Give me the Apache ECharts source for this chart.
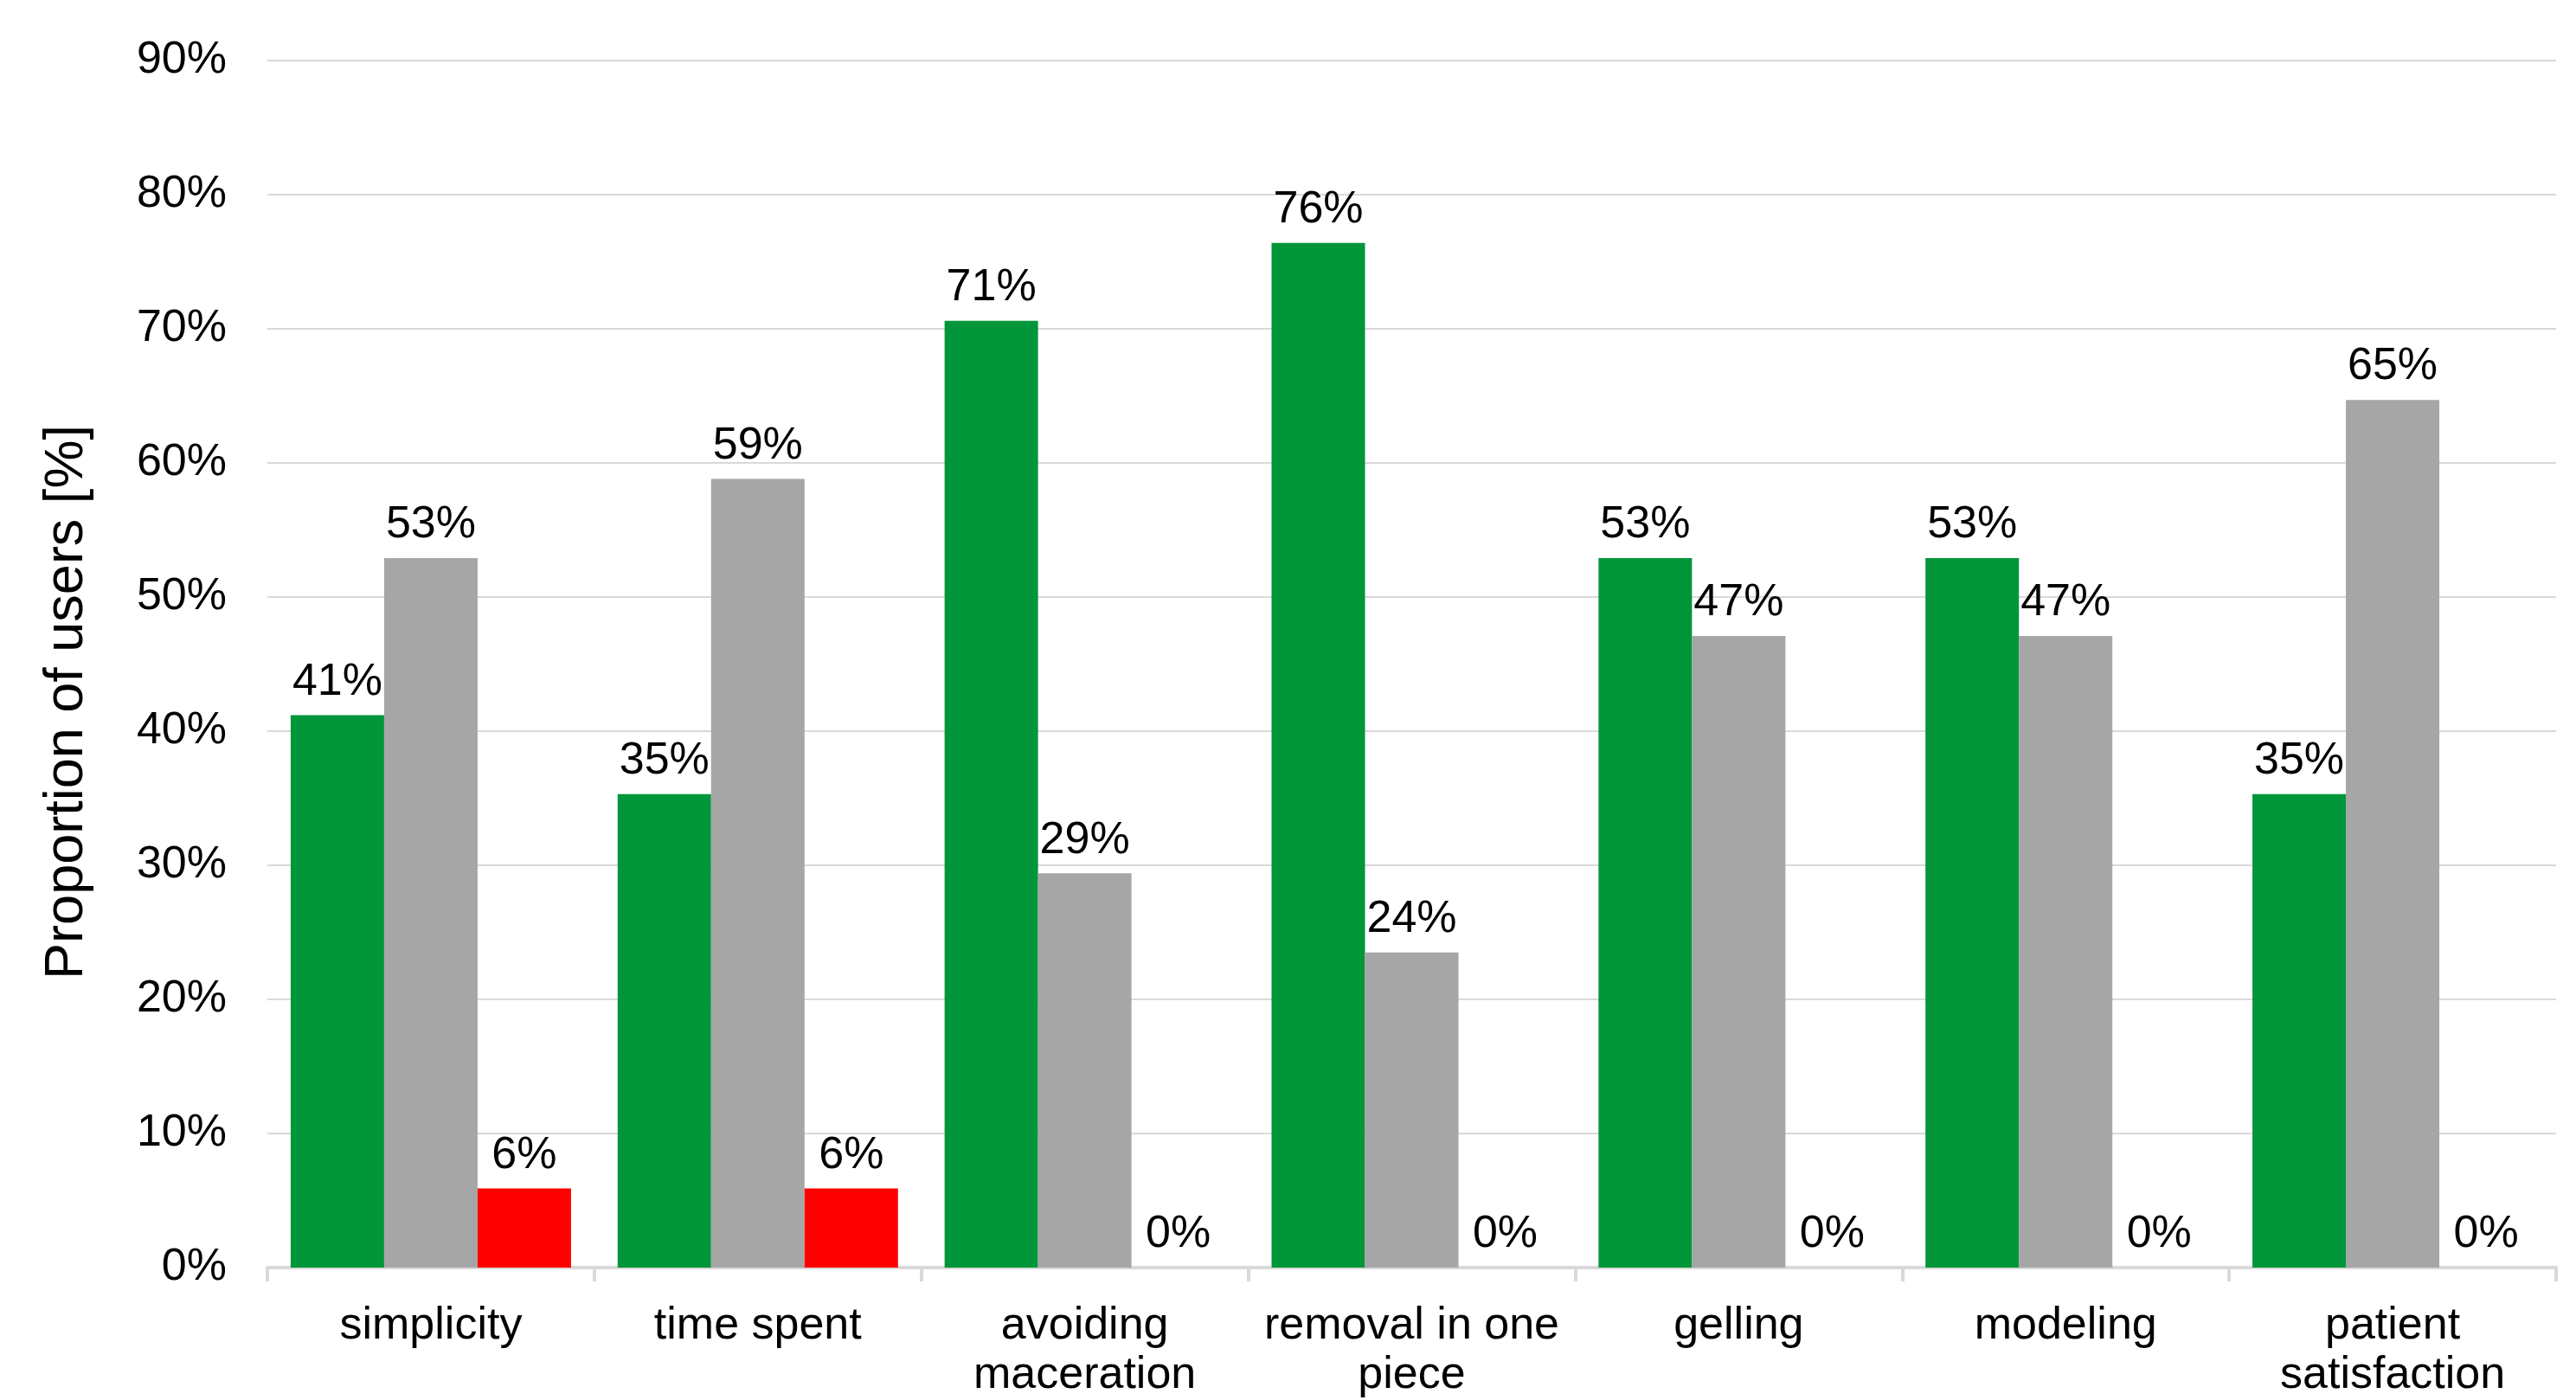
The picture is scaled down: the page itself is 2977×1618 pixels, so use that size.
<!DOCTYPE html>
<html>
<head>
<meta charset="utf-8">
<script src="https://cdn.jsdelivr.net/npm/echarts@6/dist/echarts.min.js"></script>
<style>
  html, body { margin: 0; padding: 0; background: #fff; }
  #chart { width: 2977px; height: 1618px; }
</style>
</head>
<body>
<div id="chart"></div>
<script>
// categories and values (percent of users)
const categories = ['simplicity', 'time spent', 'avoiding\nmaceration', 'removal in one\npiece', 'gelling', 'modeling', 'patient\nsatisfaction']
const greenValues = [41.2, 35.3, 70.6, 76.4, 52.9, 52.9, 35.3]
const grayValues = [52.9, 58.8, 29.4, 23.5, 47.1, 47.1, 64.7]
const redValues = [5.9, 5.9, 0, 0, 0, 0, 0]
const yTicks = [0, 10, 20, 30, 40, 50, 60, 70, 80, 90]

const font = "'Liberation Sans', Arial, sans-serif"

const chart = echarts.init(document.getElementById('chart'), null, { renderer: 'canvas' })

function barSeries(data, color) {
  return {
    type: 'bar',
    data: data,
    barWidth: 108,
    barGap: '0%',
    itemStyle: { color: color },
    label: {
      show: true,
      position: 'top',
      distance: 12,
      color: '#000',
      fontFamily: font,
      fontSize: 52,
      formatter: function(p) {
        return Math.round(p.value) + '%'
      }
    }
  }
}

const option = {
  backgroundColor: '#fff',
  animation: false,
  grid: {
    left: 309,
    right: 23,
    top: 70,
    bottom: 148,
    containLabel: false
  },
  xAxis: {
    type: 'category',
    data: categories,
    axisLine: { show: true, lineStyle: { color: '#d9d9d9', width: 4 } },
    axisTick: { show: true, length: 16, lineStyle: { color: '#d9d9d9', width: 4 } },
    axisLabel: {
      interval: 0,
      margin: 39,
      color: '#000',
      fontFamily: font,
      fontSize: 52,
      lineHeight: 57
    }
  },
  yAxis: {
    type: 'value',
    min: yTicks[0],
    max: yTicks[yTicks.length - 1],
    interval: 10,
    name: 'Proportion of users [%]',
    nameLocation: 'middle',
    nameGap: 200,
    // shift the title a bit down, as in the original
    nameTextStyle: { color: '#000', fontFamily: font, fontSize: 63, padding: [0, 88, 0, 0] },
    axisLine: { show: false },
    axisTick: { show: false },
    splitLine: { lineStyle: { color: '#d9d9d9', width: 2 } },
    axisLabel: {
      margin: 47,
      color: '#000',
      fontFamily: font,
      fontSize: 52,
      formatter: '{value}%'
    }
  },
  series: [
    barSeries(greenValues, '#009639'),
    barSeries(grayValues, '#a6a6a6'),
    barSeries(redValues, '#ff0000')
  ]
}

chart.setOption(option)
</script>
</body>
</html>
